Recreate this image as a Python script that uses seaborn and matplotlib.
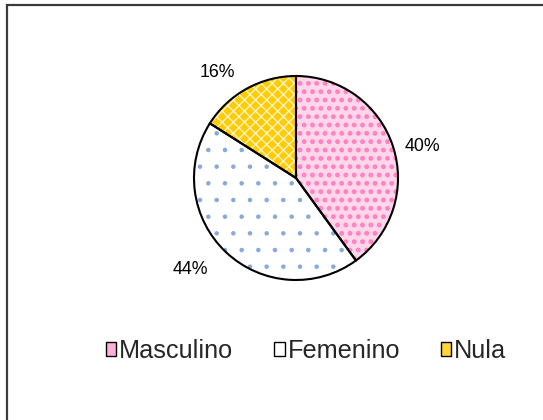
import matplotlib
matplotlib.use("Agg")
import numpy as np
import matplotlib.pyplot as plt
import matplotlib.patches as mpatches
import seaborn as sns

# Data
categories = ['Masculino', 'Femenino', 'Nula']
shares = [40, 44, 16]

# Styles (fill, hatch, hatch colour)
face_colors = ['#FFD6EA', '#FFFFFF', '#FFCC00']
hatch_colors = ['#FF80C0', '#86A9DC', '#FFF2C8']
legend_colors = ['#FFB0D8', '#FFFFFF', '#FFD633']
hatches = ['..', '.', 'xxx']
hatch_widths = [2.2, 0.8, 1.0]

# label placement (Excel "best fit" is not centred on the slice)
label_nudge_deg = [-4, -6, 8]
label_dist = [1.28, 1.37, 1.29]

sns.set_theme(style='white')
plt.rcParams['font.family'] = ['Liberation Sans', 'DejaVu Sans']
plt.rcParams['hatch.linewidth'] = 1.4

fig = plt.figure(figsize=(5.43, 4.20), dpi=100)
fig.patch.set_facecolor('white')

# outer chart-area frame (only left/top edges visible in the picture)
frame = mpatches.Rectangle((7 / 543, -0.1), 1.2, (420 - 5) / 420 + 0.1,
                           transform=fig.transFigure, fill=False,
                           lw=1.6, ec='#3a3a3a')
fig.add_artist(frame)

ax = fig.add_axes([194 / 543, 140 / 420, 204 / 543, 204 / 420])

# hatched fills
wedges, _ = ax.pie(shares, startangle=90, counterclock=False,
                   colors=face_colors,
                   wedgeprops=dict(linewidth=0))
for w, h, hc, hw in zip(wedges, hatches, hatch_colors, hatch_widths):
    w.set_hatch(h)
    w.set_edgecolor(hc)
    if hasattr(w, 'set_hatch_linewidth'):
        w.set_hatch_linewidth(hw)

# black outlines and percentage labels
outl, _, autotexts = ax.pie(shares, startangle=90, counterclock=False,
                            autopct='%1.0f%%', pctdistance=1.3,
                            wedgeprops=dict(fill=False, linewidth=1.5,
                                            edgecolor='black'),
                            textprops=dict(fontsize=12.8, color='black'))
for w, t, dn, dd in zip(outl, autotexts, label_nudge_deg, label_dist):
    ang = np.deg2rad((w.theta1 + w.theta2) / 2 + dn)
    t.set_position((dd * np.cos(ang), dd * np.sin(ang)))
ax.set_xlim(-1, 1)
ax.set_ylim(-1, 1)

# legend squares
handles = [mpatches.Patch(facecolor=fc, edgecolor='black', lw=1.0)
           for fc in legend_colors]
fig.legend(handles, categories, loc='center', ncol=3,
           bbox_to_anchor=(306 / 543, 1 - 351 / 420), frameon=False,
           fontsize=18.2, handlelength=0.42, handleheight=0.42,
           handletextpad=0.12, columnspacing=1.6)

plt.savefig('out.png', dpi=100)
